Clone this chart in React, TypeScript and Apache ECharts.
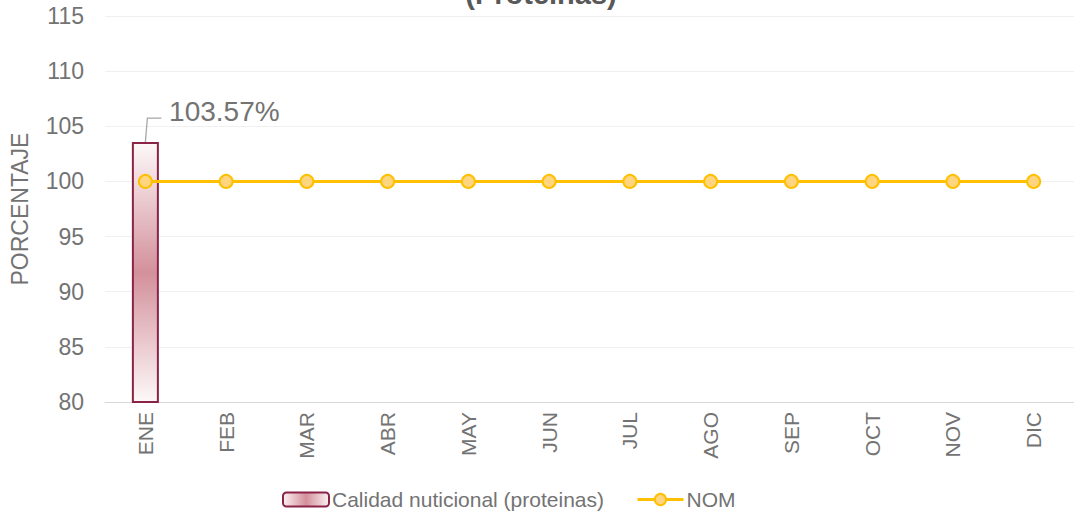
import React, { useEffect, useRef } from "react";
import * as echarts from "echarts";

const months = ["ENE", "FEB", "MAR", "ABR", "MAY", "JUN", "JUL", "AGO", "SEP", "OCT", "NOV", "DIC"];
const calidad: (number | null)[] = [103.57, null, null, null, null, null, null, null, null, null, null, null];
const nom = [100, 100, 100, 100, 100, 100, 100, 100, 100, 100, 100, 100];
const titleText = "(Proteinas)";
const seriesNames = ["Calidad nuticional (proteinas)", "NOM"];

const TEXT = "#737373";
const FONT = "Liberation Sans, Arial, sans-serif";

export default function App() {
  const ref = useRef<HTMLDivElement>(null);
  useEffect(() => {
    const chart = echarts.init(ref.current!, null, { renderer: "svg" });
    const grad = new echarts.graphic.LinearGradient(0, 0, 0, 1, [
      { offset: 0, color: "#fdf8f9" },
      { offset: 0.5, color: "#d3909b" },
      { offset: 1, color: "#fdf8f9" },
    ]);
    const legendGrad = new echarts.graphic.LinearGradient(0, 0, 1, 0, [
      { offset: 0, color: "#fbf1f3" },
      { offset: 0.5, color: "#d3909b" },
      { offset: 1, color: "#fbf1f3" },
    ]);
    chart.setOption({
      animation: false,
      textStyle: { fontFamily: FONT },
      grid: { left: 103, right: -5, top: 16, bottom: 112 },
      legend: {
        top: 484,
        left: 277,
        itemGap: 32,
        itemWidth: 46,
        itemHeight: 14,
        textStyle: { fontSize: 21, color: TEXT, padding: [0, 0, 0, -2] },
        data: [
          { name: seriesNames[0], itemStyle: { color: legendGrad, borderColor: "#8b2346", borderWidth: 2 } },
          {
            name: seriesNames[1],
            itemStyle: { color: "#ffd580", borderColor: "#ffc000", borderWidth: 2 },
            lineStyle: { color: "#ffc000", width: 3 },
          },
        ],
      },
      xAxis: {
        type: "category",
        data: months,
        axisLine: { lineStyle: { color: "#d9d9d9", width: 1 } },
        axisTick: { show: false },
        axisLabel: { rotate: 90, fontSize: 21, color: TEXT, margin: 10 },
      },
      yAxis: {
        type: "value",
        min: 80,
        max: 115,
        interval: 5,
        name: "PORCENTAJE",
        nameLocation: "middle",
        nameGap: 74,
        nameTextStyle: { fontSize: 23, color: TEXT },
        axisLine: { show: false },
        axisTick: { show: false },
        axisLabel: { fontSize: 23, color: TEXT, margin: 21 },
        splitLine: { lineStyle: { color: "#f0f0f0", width: 1 } },
      },
      series: [
        {
          name: seriesNames[0],
          type: "bar",
          data: calidad,
          barWidth: 27,
          itemStyle: { color: grad, borderColor: "#8b2346", borderWidth: 2 },
          label: {
            show: true,
            position: "top",
            formatter: (p: any) => p.value.toFixed(2) + "%",
            fontSize: 28,
            color: TEXT,
            offset: [79, -12],
          },
          z: 1,
        },
        {
          name: seriesNames[1],
          type: "line",
          data: nom,
          symbol: "circle",
          symbolSize: 13,
          lineStyle: { color: "#ffc000", width: 3 },
          itemStyle: { color: "#ffd580", borderColor: "#ffc000", borderWidth: 2 },
          z: 3,
        },
      ],
    });
    const top = chart.convertToPixel({ seriesIndex: 0 }, [0, calidad[0] as number]) as number[];
    chart.setOption({
      graphic: [
        {
          type: "text",
          x: 541,
          y: -21,
          style: { text: titleText, fill: "#595959", font: "bold 29px " + FONT, textAlign: "center" },
        },
        {
          type: "polyline",
          shape: {
            points: [
              [top[0], top[1]],
              [top[0] + 2, top[1] - 24],
              [top[0] + 16, top[1] - 24],
            ],
          },
          style: { stroke: "#a6a6a6", lineWidth: 1.3, fill: "none" },
          silent: true,
        },
      ],
    });
    return () => chart.dispose();
  }, []);
  return <div ref={ref} style={{ width: 1074, height: 514, position: "absolute", left: 0, top: 0 }} />;
}
